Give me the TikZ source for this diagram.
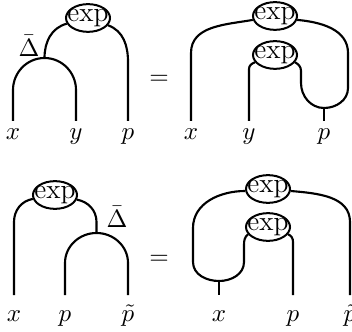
\documentclass[tikz,border=0pt]{standalone}
\usepackage{amsmath}
\usepackage{amssymb}
\usepackage{tikz}
\usetikzlibrary{shapes.geometric, positioning}
\tikzstyle{expn} = [ellipse, draw, line width=0.8pt, fill=white, inner xsep=-2pt, inner ysep=0.4pt, font=\fontsize{11}{13}\selectfont\rmfamily]
\tikzstyle{wire} = [line width=0.85pt]
\tikzstyle{lbl} = [anchor=base, inner sep=0pt, font=\normalsize]
\tikzstyle{dlt} = [inner sep=0pt, font=\normalsize]

\begin{document}
\begin{tikzpicture}[x=0.4pt, y=0.4pt]
    \useasboundingbox (0,0) rectangle (352,-332);

    % first line, left side
    \node[expn] (e1) at (88,-18) {exp};
    \coordinate (d1) at (44.5,-58);
    \coordinate (a1) at (13,-121);
    \coordinate (b1) at (76,-121);
    \coordinate (c1) at (128,-121);
    \draw[wire] (e1.195) to[out=195,in=90] (d1);
    \draw[wire] (a1) -- (13,-90) to[out=90,in=180] (d1) to[out=0,in=90] (76,-90) -- (b1);
    \draw[wire] (c1) -- (128,-62) to[out=90,in=-20] (e1.-20);
    \node[dlt] (dl1) at (29,-46) {$\bar{\Delta}$};
    \node[lbl] (x1) at (13,-140) {$x$};
    \node[lbl] (y1) at (76,-140) {$y$};
    \node[lbl] (p1) at (128,-140) {$p$};

    \node (eq1) at (159,-80) {$=$};

    % first line, right side
    \node[expn] (e2) at (275,-16) {exp};
    \node[expn] (e3) at (275,-55) {exp};
    \coordinate (a2) at (191,-121);
    \coordinate (b2) at (249,-121);
    \coordinate (j2) at (324,-108);
    \coordinate (c2) at (324,-121);
    \draw[wire] (a2) -- (191,-53) to[out=90,in=190] (e2.190);
    \draw[wire] (b2) -- (249,-69) to[out=90,in=200] (e3.200);
    \draw[wire] (e3.-20) to[out=-30,in=90] (301,-71) -- (301,-83) to[out=-90,in=180] (j2);
    \draw[wire] (e2.-10) to[out=-5,in=90] (348,-53) -- (348,-88) to[out=-90,in=0] (j2);
    \draw[wire] (j2) -- (c2);
    \node[lbl] (x2) at (191,-140) {$x$};
    \node[lbl] (y2) at (249,-140) {$y$};
    \node[lbl] (p2) at (324,-140) {$p$};

    % second line, left side
    \node[expn] (e4) at (55,-195) {exp};
    \coordinate (d3) at (96.5,-233);
    \coordinate (a3) at (14,-295);
    \coordinate (b3) at (65,-295);
    \coordinate (c3) at (128,-295);
    \draw[wire] (a3) -- (14,-222) to[out=90,in=190] (e4.190);
    \draw[wire] (e4.-12) to[out=-10,in=90] (96.5,-222) -- (d3);
    \draw[wire] (b3) -- (65,-263) to[out=90,in=180] (d3) to[out=0,in=90] (128,-263) -- (c3);
    \node[dlt] (dl2) at (117,-217) {$\bar{\Delta}$};
    \node[lbl] (x3) at (14,-321) {$x$};
    \node[lbl] (p3) at (65,-321) {$p$};
    \node[lbl] (q3) at (128,-321) {$\tilde{p}$};

    \node (eq2) at (159,-260) {$=$};

    % second line, right side
    \node[expn] (e5) at (268,-189) {exp};
    \node[expn] (e6) at (268,-227) {exp};
    \coordinate (a4) at (219,-295);
    \coordinate (j4) at (219,-281);
    \coordinate (b4) at (293,-295);
    \coordinate (c4) at (350,-295);
    \draw[wire] (c4) -- (350,-222) to[out=90,in=-5] (e5.-5);
    \draw[wire] (e5.185) to[out=180,in=90] (193,-228) -- (193,-262) to[out=-90,in=180] (j4);
    \draw[wire] (e6.200) to[out=220,in=90] (244,-245) -- (244,-262) to[out=-90,in=0] (j4);
    \draw[wire] (e6.-20) to[out=-20,in=90] (293,-242) -- (b4);
    \draw[wire] (j4) -- (a4);
    \node[lbl] (x4) at (219,-321) {$x$};
    \node[lbl] (p4) at (293,-321) {$p$};
    \node[lbl] (q4) at (350,-321) {$\tilde{p}$};
\end{tikzpicture}
\end{document}
